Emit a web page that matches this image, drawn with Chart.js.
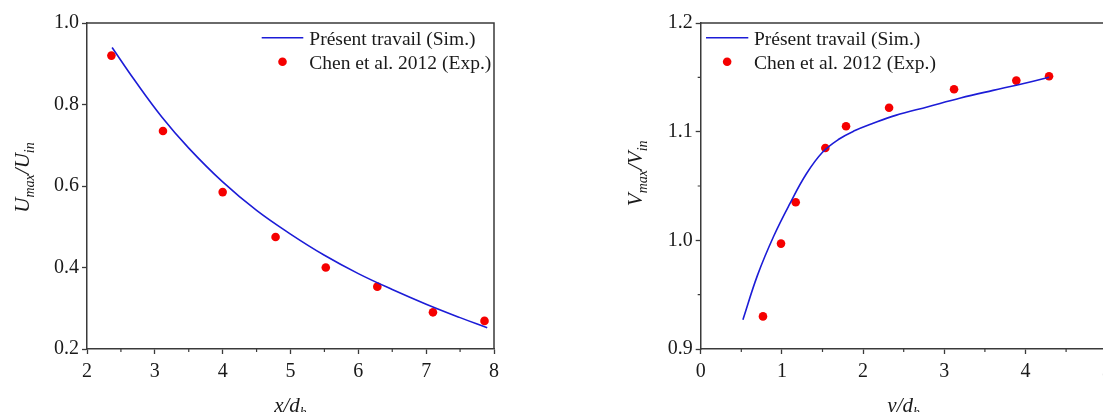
<!DOCTYPE html>
<html><head><meta charset="utf-8">
<script src="https://cdn.jsdelivr.net/npm/chart.js@4"></script>
<style>
html,body{margin:0;padding:0;background:#fff;overflow:hidden;width:1103px;height:412px}
#c1{position:absolute;left:0;top:0}
#c2{position:absolute;left:560px;top:0}
</style></head><body>
<canvas id="c1" width="540" height="412" style="width:540px;height:412px"></canvas>
<canvas id="c2" width="560" height="412" style="width:560px;height:412px"></canvas>
<script>
// ---- Data: left panel (U_max/U_in vs x/d_h) ----
const uSimX = [2.37, 2.7, 3.1, 3.5, 4.0, 4.5, 5.0, 5.5, 6.0, 6.5, 7.0, 7.5, 7.9];
const uSimY = [0.940, 0.860, 0.770, 0.693, 0.610, 0.540, 0.482, 0.430, 0.385, 0.346, 0.310, 0.277, 0.252];
const uExpX = [2.36, 3.12, 4.0, 4.78, 5.52, 6.28, 7.10, 7.86];
const uExpY = [0.920, 0.735, 0.585, 0.475, 0.400, 0.353, 0.290, 0.269];
// ---- Data: right panel (V_max/V_in vs y/d_h) ----
const vSimX = [0.52, 0.70, 0.90, 1.10, 1.30, 1.50, 1.70, 1.90, 2.10, 2.40, 2.80, 3.20, 3.60, 3.90, 4.29];
const vSimY = [0.927, 0.968, 1.004, 1.034, 1.061, 1.081, 1.093, 1.101, 1.107, 1.115, 1.123, 1.131, 1.138, 1.143, 1.150];
const vExpX = [0.767, 0.989, 1.17, 1.535, 1.79, 2.32, 3.12, 3.887, 4.29];
const vExpY = [0.930, 0.997, 1.035, 1.085, 1.105, 1.122, 1.139, 1.147, 1.151];
// ---- Labels ----
const seriesNames = ['Présent travail (Sim.)', 'Chen et al. 2012 (Exp.)'];
const leftXTitle = [['x', false], ['/d', false], ['h', true]];
const leftYTitle = [['U', false], ['max', true], ['/U', false], ['in', true]];
const rightXTitle = [['y', false], ['/d', false], ['h', true]];
const rightYTitle = [['V', false], ['max', true], ['/V', false], ['in', true]];

const FONT = "'Liberation Serif', 'Times New Roman', serif";
const TXT = '#1a1a1a';
const AX = '#3a3a3a';
const BLUE = 'rgb(28,28,215)';
const RED = 'rgb(245,0,0)';

function pts(xs, ys) { return xs.map((x, i) => ({x, y: ys[i]})); }

function drawTitle(ctx, parts, cx, cy, rotate) {
  const mainF = 'italic 21px ' + FONT, subF = 'italic 14px ' + FONT;
  let w = 0;
  parts.forEach(p => { ctx.font = p[1] ? subF : mainF; w += ctx.measureText(p[0]).width; });
  ctx.save();
  ctx.translate(cx, cy);
  if (rotate) ctx.rotate(-Math.PI / 2);
  ctx.fillStyle = TXT;
  ctx.textBaseline = 'alphabetic';
  ctx.textAlign = 'left';
  let x = -w / 2;
  parts.forEach(p => {
    ctx.font = p[1] ? subF : mainF;
    ctx.fillText(p[0], x, p[1] ? 5 : 0);
    x += ctx.measureText(p[0]).width;
  });
  ctx.restore();
}

function makePlugin(opt) {
  return {
    id: 'decor',
    afterDraw(chart) {
      const ctx = chart.ctx, a = chart.chartArea;
      const xs = chart.scales.x, ys = chart.scales.y;
      ctx.save();
      ctx.strokeStyle = AX; ctx.lineWidth = 1.5;
      ctx.beginPath();
      ctx.moveTo(a.left, a.top); ctx.lineTo(a.right, a.top); ctx.lineTo(a.right, a.bottom);
      ctx.stroke();
      ctx.lineWidth = 1.2;
      ctx.beginPath();
      if (opt.xMinor) {
        for (let v = xs.min + opt.xMinor; v < xs.max; v += 2 * opt.xMinor) {
          const px = xs.getPixelForValue(v);
          ctx.moveTo(px, a.bottom); ctx.lineTo(px, a.bottom + 3);
        }
      }
      if (opt.yMinor) {
        for (let v = ys.min + opt.yMinor; v < ys.max; v += 2 * opt.yMinor) {
          const py = ys.getPixelForValue(v);
          ctx.moveTo(a.left, py); ctx.lineTo(a.left - 3, py);
        }
      }
      ctx.stroke();
      const L = opt.legend;
      const ds0 = chart.data.datasets[0], ds1 = chart.data.datasets[1];
      ctx.strokeStyle = ds0.borderColor; ctx.lineWidth = ds0.borderWidth;
      ctx.beginPath(); ctx.moveTo(L.x0, L.y0); ctx.lineTo(L.x1, L.y0); ctx.stroke();
      ctx.fillStyle = ds1.backgroundColor;
      ctx.beginPath(); ctx.arc((L.x0 + L.x1) / 2, L.y0 + 24, ds1.pointRadius, 0, Math.PI * 2); ctx.fill();
      ctx.fillStyle = TXT; ctx.font = '19.5px ' + FONT; ctx.textBaseline = 'alphabetic'; ctx.textAlign = 'left';
      ctx.fillText(ds0.label, L.tx, L.y0 + 7);
      ctx.fillText(ds1.label, L.tx, L.y0 + 31);
      ctx.restore();
      drawTitle(ctx, opt.xTitle, (a.left + a.right) / 2, 411.5, false);
      drawTitle(ctx, opt.yTitle, opt.yTitleX, opt.yTitleY, true);
    }
  };
}

function makeChart(id, d, o) {
  const tickFont = {family: FONT, size: 20};
  return new Chart(document.getElementById(id), {
    type: 'scatter',
    data: {
      datasets: [
        {label: seriesNames[0], type: 'line', data: pts(d.sx, d.sy), borderColor: BLUE, backgroundColor: BLUE,
         borderWidth: 1.6, pointRadius: 0, tension: 0.4, fill: false},
        {label: seriesNames[1], data: pts(d.ex, d.ey), backgroundColor: RED, borderColor: RED,
         pointRadius: 4.3, borderWidth: 0}
      ]
    },
    options: {
      responsive: false, animation: false,
      layout: {padding: o.padding},
      plugins: {legend: {display: false}, tooltip: {enabled: false}},
      scales: {
        x: {type: 'linear', min: o.xmin, max: o.xmax,
            ticks: {stepSize: 1, font: tickFont, color: TXT, padding: 6, maxRotation: 0, autoSkip: false,
                    callback: v => String(v)},
            grid: {drawOnChartArea: false, tickLength: 5, tickColor: AX, tickWidth: 1.3},
            border: {display: true, color: AX, width: 1.5},
            afterFit(s) { s.height = o.xh; }},
        y: {type: 'linear', min: o.ymin, max: o.ymax,
            ticks: {stepSize: o.ystep, font: tickFont, color: TXT, padding: 3, autoSkip: false,
                    callback: v => Number(v).toFixed(1)},
            grid: {drawOnChartArea: false, tickLength: 5, tickColor: AX, tickWidth: 1.3},
            border: {display: true, color: AX, width: 1.5},
            afterFit(s) { s.width = o.yw; }}
      }
    },
    plugins: [makePlugin(o)]
  });
}

makeChart('c1', {sx: uSimX, sy: uSimY, ex: uExpX, ey: uExpY}, {
  padding: {left: 0, top: 23, right: 46, bottom: 0}, xh: 63, yw: 87,
  xmin: 2, xmax: 8, ymin: 0.2, ymax: 1.0, ystep: 0.2, xMinor: 0.5, yMinor: 0,
  legend: {x0: 261.7, x1: 303.3, y0: 37.7, tx: 309.3},
  xTitle: leftXTitle, yTitle: leftYTitle, yTitleX: 28.5, yTitleY: 177.5
});
makeChart('c2', {sx: vSimX, sy: vSimY, ex: vExpX, ey: vExpY}, {
  padding: {left: 0, top: 23, right: 13.3, bottom: 0}, xh: 63, yw: 140.7,
  xmin: 0, xmax: 5, ymin: 0.9, ymax: 1.2, ystep: 0.1, xMinor: 0.5, yMinor: 0.05,
  legend: {x0: 146, x1: 188.3, y0: 37.7, tx: 194},
  xTitle: rightXTitle, yTitle: rightYTitle, yTitleX: 81.7, yTitleY: 173.3
});
</script>
</body></html>
